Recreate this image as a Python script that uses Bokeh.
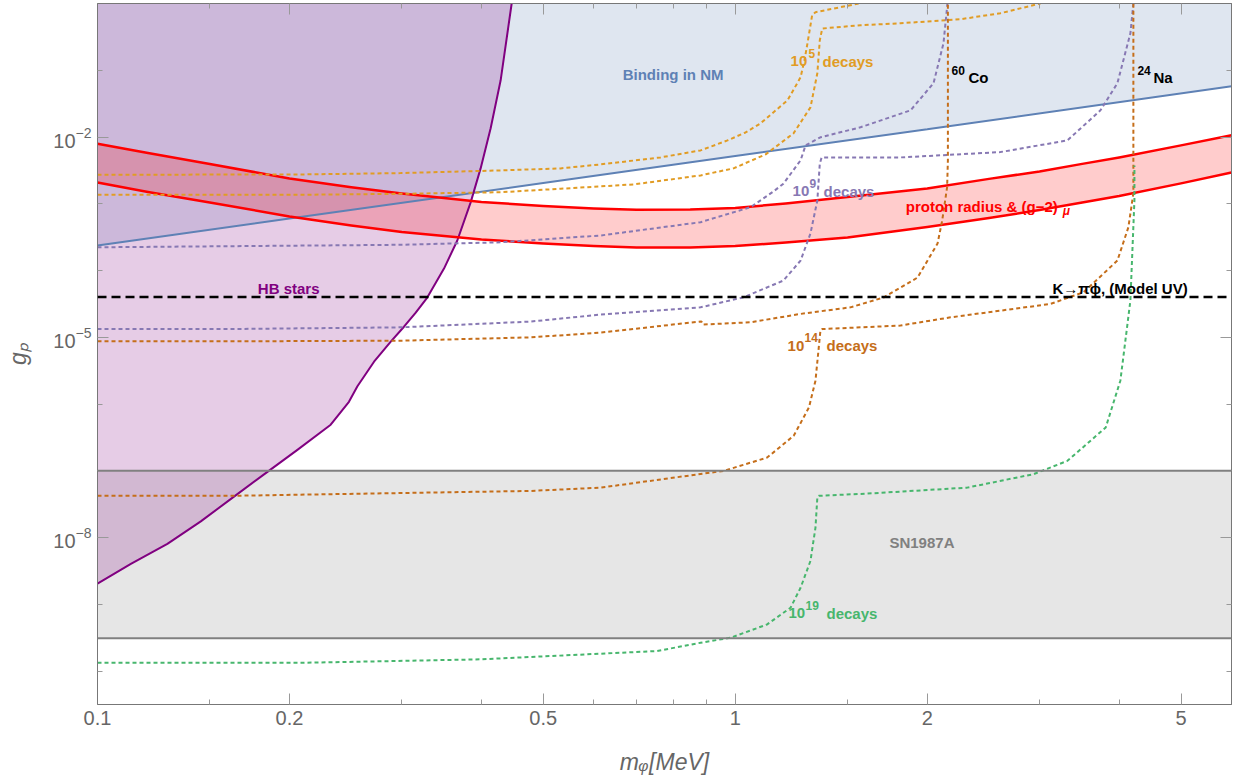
from bokeh.plotting import figure
from bokeh.models import (FixedTicker, LogAxis, CustomJSTickFormatter, Label, Span, Range1d)
from bokeh.embed import file_html
from bokeh.resources import INLINE

# ---------------- axis ranges / ticks ----------------
X_MIN, X_MAX = 0.1, 6.0
Y_MIN, Y_MAX = 3.16e-11, 1.0
x_major = [0.1, 0.2, 0.5, 1, 2, 5]
x_minor = [0.15, 0.3, 0.4, 0.6, 0.7, 0.8, 0.9, 1.5, 3, 4]
y_major = [1e-8, 1e-5, 1e-2]
y_minor = [1e-10, 1e-9, 1e-7, 1e-6, 1e-4, 1e-3, 1e-1]

# ---------------- data ----------------
# Binding in nuclear matter (region above is excluded)
m_bind = [0.1, 0.2, 0.5, 1.0, 2.0, 6.0]
g_bind = [2.37e-4, 6.0e-4, 2.04e-3, 5.2e-3, 1.31e-2, 5.75e-2]

# proton radius & (g-2)_mu band
m_pr = [0.1, 0.12, 0.15, 0.2, 0.25, 0.3, 0.4, 0.5, 0.6, 0.7, 0.85, 1.0, 1.2, 1.5, 2.0, 2.5, 3.0, 3.5, 4.0, 5.0, 6.0]
g_pr_hi = [7.95e-3, 5.78e-3, 3.93e-3, 2.40e-3, 1.77e-3, 1.43e-3, 1.064e-3, 9.27e-4, 8.5e-4, 8.13e-4, 8.22e-4, 8.65e-4,
           1.01e-3, 1.265e-3, 1.70e-3, 2.36e-3, 3.05e-3, 3.96e-3, 4.95e-3, 7.5e-3, 1.06e-2]
g_pr_lo = [2.09e-3, 1.50e-3, 1.047e-3, 6.45e-4, 4.73e-4, 3.78e-4, 2.92e-4, 2.54e-4, 2.33e-4, 2.21e-4, 2.21e-4, 2.33e-4,
           2.63e-4, 3.13e-4, 4.49e-4, 6.12e-4, 8.07e-4, 1.047e-3, 1.31e-3, 2.02e-3, 2.95e-3]

# HB stars boundary
m_hb = [0.1, 0.1128, 0.1287, 0.1452, 0.1635, 0.1847, 0.2058, 0.2321, 0.2479, 0.2556, 0.2714, 0.2883,
        0.3024, 0.3155, 0.3289, 0.3494, 0.3666, 0.3847, 0.3988, 0.4135, 0.4287, 0.4461]
g_hb = [2.04e-9, 4.03e-9, 8.03e-9, 1.75e-8, 4.07e-8, 9.66e-8, 2.06e-7, 4.9e-7, 1.08e-6, 1.85e-6, 4.31e-6, 8.61e-6,
        1.44e-5, 2.34e-5, 3.94e-5, 1.07e-4, 2.82e-4, 1.05e-3, 3.39e-3, 1.35e-2, 7.07e-2, 1.0]

# SN1987A band and K -> pi phi limit
g_sn = [3.1e-10, 1.0e-7]
g_kpi = 4.0e-5

# decay contours: 60Co and 24Na for 1e5, 1e9, 1e14, 1e19 decays
m_co_5 = [0.1, 0.2083, 0.2988, 0.4286, 0.5324, 0.6151, 0.7636, 0.8823, 0.9725, 1.038, 1.0954, 1.208, 1.266, 1.284, 1.298, 1.320, 1.336, 1.462, 1.572]
g_co_5 = [2.72e-3, 2.75e-3, 2.88e-3, 3.16e-3, 3.39e-3, 3.89e-3, 4.95e-3, 6.3e-3, 8.9e-3, 1.17e-2, 1.60e-2, 3.55e-2, 7.85e-2, 0.141, 0.254, 0.667, 0.74, 0.88, 1.01]
m_na_5 = [0.1, 0.2083, 0.2988, 0.4286, 0.5324, 0.6930, 0.8823, 0.9938, 1.116, 1.234, 1.312, 1.345, 1.357, 1.369, 1.572, 1.816, 2.255, 2.605, 3.01]
g_na_5 = [1.365e-3, 1.365e-3, 1.41e-3, 1.49e-3, 1.68e-3, 1.95e-3, 2.66e-3, 3.39e-3, 5.49e-3, 1.135e-2, 2.78e-2, 9.0e-2, 0.281, 0.422, 0.473, 0.506, 0.581, 0.715, 1.0]

m_co_9 = [0.1, 0.2988, 0.4286, 0.6151, 0.8823, 1.057, 1.148, 1.190, 1.266, 1.289, 1.360, 1.572, 1.883, 2.046, 2.121, 2.149, 2.151]
g_co_9 = [2.23e-4, 2.43e-4, 2.65e-4, 3.35e-4, 5.3e-4, 8.9e-4, 1.53e-3, 2.0e-3, 4.47e-3, 7.5e-3, 9.9e-3, 1.40e-2, 2.51e-2, 6.4e-2, 0.254, 0.889, 1.0]
m_na_9 = [0.1, 0.1618, 0.2988, 0.4777, 0.6151, 0.8823, 1.030, 1.190, 1.266, 1.312, 1.345, 1.357, 1.366, 1.816, 2.605, 3.318, 3.738, 3.974, 4.165, 4.210]
g_na_9 = [1.33e-5, 1.33e-5, 1.41e-5, 1.72e-5, 2.19e-5, 2.81e-5, 3.97e-5, 7.08e-5, 1.41e-4, 3.59e-4, 1.12e-3, 3.98e-3, 4.95e-3, 4.95e-3, 5.95e-3, 8.9e-3, 2.51e-2, 6.4e-2, 0.358, 1.0]

m_co_14 = [0.1, 0.1618, 0.2988, 0.4777, 0.6151, 0.885, 0.890, 1.057, 1.266, 1.516, 1.708, 1.931, 2.076, 2.111, 2.149, 2.155, 2.155]
g_co_14 = [8.7e-6, 8.7e-6, 8.9e-6, 9.98e-6, 1.175e-5, 1.73e-5, 1.55e-5, 1.68e-5, 2.24e-5, 2.81e-5, 3.94e-5, 7.85e-5, 2.54e-4, 5.6e-4, 1.77e-3, 4.47e-3, 1.0]
m_na_14 = [0.1, 0.1618, 0.4777, 0.6151, 0.960, 1.122, 1.235, 1.305, 1.336, 1.352, 1.360, 1.369, 1.816, 2.175, 3.121, 3.516, 3.974, 4.135, 4.210, 4.210]
g_na_14 = [4.22e-8, 4.22e-8, 5.0e-8, 5.6e-8, 1.0e-7, 1.58e-7, 3.35e-7, 8.9e-7, 2.24e-6, 7.06e-6, 1.26e-5, 1.33e-5, 1.50e-5, 1.99e-5, 3.16e-5, 4.72e-5, 1.41e-4, 4.46e-4, 1.43e-3, 1.0]

m_na_19 = [0.1, 0.2083, 0.3988, 0.7546, 0.8823, 0.983, 1.122, 1.221, 1.266, 1.312, 1.336, 1.345, 1.352, 1.610, 2.310, 2.935, 3.318, 3.81, 4.017, 4.165, 4.226, 4.226]
g_na_19 = [1.33e-10, 1.33e-10, 1.50e-10, 2.0e-10, 2.66e-10, 3.16e-10, 5.0e-10, 8.9e-10, 1.77e-9, 4.47e-9, 1.41e-8, 3.97e-8, 4.22e-8, 4.56e-8, 5.6e-8, 8.9e-8, 1.41e-7, 4.46e-7, 2.24e-6, 3.55e-5, 1.12e-3, 3.76e-3]

# ---------------- styles ----------------
BLUE = "#5e81b5"
PURPLE = "#800080"
RED = "#ff0000"
GRAY = "#808080"
C5, C9, C14, C19 = "#e19c24", "#8778b3", "#c56e1a", "#47b66d"
FONT = "Liberation Sans"
AX_LINE = "#777777"
TICK = "#999999"
TICK_TXT = "#666666"

p = figure(width=1239, height=783, x_axis_type="log", y_axis_type="log",
           x_range=Range1d(X_MIN, X_MAX), y_range=Range1d(Y_MIN, Y_MAX),
           output_backend="svg", toolbar_location=None,
           min_border_left=97, min_border_right=8, min_border_top=3, min_border_bottom=79)
p.grid.visible = False
p.outline_line_color = AX_LINE
p.background_fill_color = "white"
p.border_fill_color = "white"

xticker = FixedTicker(ticks=x_major, minor_ticks=x_minor)
yticker = FixedTicker(ticks=y_major, minor_ticks=y_minor)


def style_axis(ax, labels=True):
    ax.axis_line_color = AX_LINE
    ax.major_tick_line_color = TICK
    ax.minor_tick_line_color = TICK
    ax.major_tick_in = 11
    ax.major_tick_out = 0
    ax.minor_tick_in = 5
    ax.minor_tick_out = 0
    ax.major_label_text_font = FONT
    ax.major_label_text_color = TICK_TXT
    ax.axis_label_text_font = FONT
    ax.axis_label_text_color = TICK_TXT
    ax.axis_label_text_font_size = "23px"
    ax.axis_label_text_font_style = "italic"
    if labels:
        ax.major_label_text_font_size = "20px"
        ax.major_label_standoff = 6
    else:
        ax.major_label_text_font_size = "0px"
        ax.major_label_standoff = 0


xa = p.xaxis[0]
xa.ticker = xticker
xa.formatter = CustomJSTickFormatter(code="return tick.toString();")
style_axis(xa)
xa.axis_label = "m\u1d69[MeV]"
xa.axis_label_standoff = 21
ya = p.yaxis[0]
ya.ticker = yticker
style_axis(ya)
ya.axis_label = "g\u209a"
ya.axis_label_standoff = 19

top_ax = LogAxis(ticker=xticker, formatter=CustomJSTickFormatter(code="return '';"))
style_axis(top_ax, labels=False)
p.add_layout(top_ax, "above")
right_ax = LogAxis(ticker=yticker, formatter=CustomJSTickFormatter(code="return '';"))
style_axis(right_ax, labels=False)
p.add_layout(right_ax, "right")

# ---------------- fills ----------------
p.varea(x=m_bind, y1=g_bind, y2=[Y_MAX] * len(m_bind), fill_color=BLUE, fill_alpha=0.2)
p.varea(x=[X_MIN, X_MAX], y1=[g_sn[0]] * 2, y2=[g_sn[1]] * 2, fill_color=GRAY, fill_alpha=0.2)
p.patch(x=m_hb + [X_MIN], y=g_hb + [Y_MAX], fill_color=PURPLE, fill_alpha=0.2, line_color=None)
p.varea(x=m_pr, y1=g_pr_lo, y2=g_pr_hi, fill_color=RED, fill_alpha=0.2)

# ---------------- lines ----------------
p.line(m_bind, g_bind, line_color=BLUE, line_width=2)
for g in g_sn:
    p.add_layout(Span(location=g, dimension="width", line_color=GRAY, line_width=2))
p.line(m_hb, g_hb, line_color=PURPLE, line_width=2, line_join="round")
p.line(m_pr, g_pr_hi, line_color=RED, line_width=2.5, line_join="round")
p.line(m_pr, g_pr_lo, line_color=RED, line_width=2.5, line_join="round")
p.add_layout(Span(location=g_kpi, dimension="width", line_color="black", line_width=2.5, line_dash="9 5"))

DOT = "4 3"
for xs, ys, c in [(m_co_5, g_co_5, C5), (m_na_5, g_na_5, C5),
                  (m_co_9, g_co_9, C9), (m_na_9, g_na_9, C9),
                  (m_co_14, g_co_14, C14), (m_na_14, g_na_14, C14),
                  (m_na_19, g_na_19, C19)]:
    p.line(xs, ys, line_color=c, line_width=2, line_dash=DOT)


# ---------------- labels ----------------
def lab(x, y, text, color, size="15px", style="bold", xo=0, yo=0, align="left"):
    p.add_layout(Label(x=x, y=y, text=text, x_offset=xo, y_offset=yo, text_color=color,
                       text_font=FONT, text_font_size=size, text_font_style=style,
                       text_align=align, text_baseline="alphabetic"))


def decays(x, y, expo, color, sup_off, dec_off):
    lab(x, y, "10", color)
    lab(x, y, expo, color, size="12px", xo=sup_off, yo=8)
    lab(x, y, "decays", color, xo=dec_off)


lab(0.799, 0.087, "Binding in NM", BLUE, align="center")
decays(1.221, 0.1363, "5", C5, 18, 32)
decays(1.230, 1.53e-3, "9", C9, 17, 31)
decays(1.208, 7.49e-6, "14", C14, 17, 39)
decays(1.212, 7.41e-10, "19", C19, 17, 38)

lab(2.183, 0.0784, "60", "black", size="12px", yo=7)
lab(2.183, 0.0784, "Co", "black", xo=17)
lab(4.272, 0.0784, "24", "black", size="12px", yo=7)
lab(4.272, 0.0784, "Na", "black", xo=16)

lab(1.851, 8.95e-4, "proton radius & (g\u22122)", RED)
lab(1.851, 8.95e-4, "\u03bc", RED, size="12px", style="bold italic", xo=157, yo=-4)

lab(3.143, 5.37e-5, "K\u2192\u03c0\u03d5, (Model UV)", "black")
lab(0.1784, 5.37e-5, "HB stars", PURPLE)
lab(1.745, 8.4e-9, "SN1987A", GRAY)

open("out.html", "w").write(file_html(p, INLINE))
